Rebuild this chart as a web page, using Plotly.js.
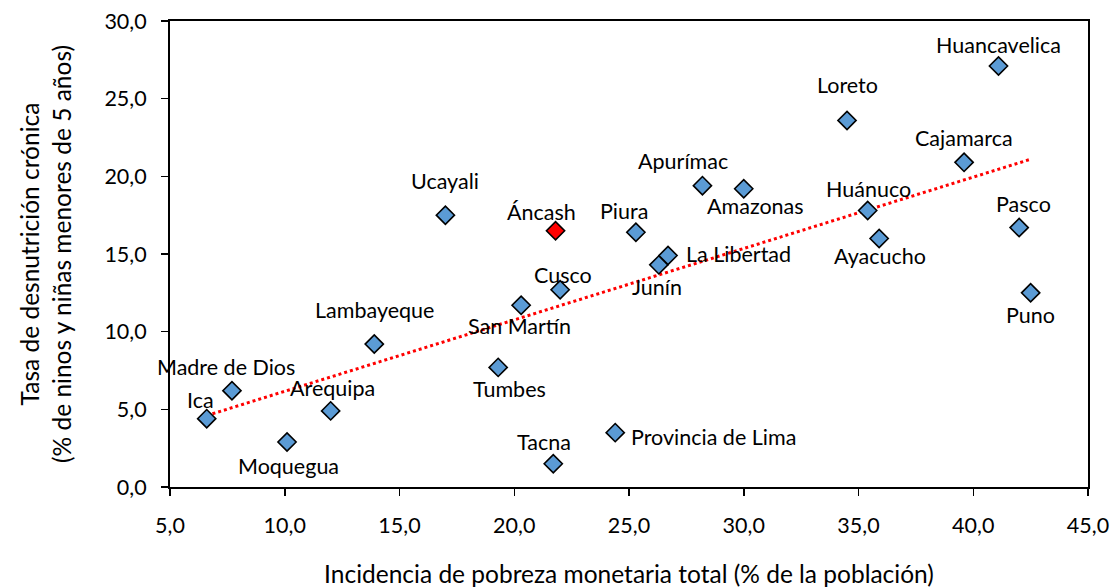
<!DOCTYPE html>
<html><head><meta charset="utf-8">
<script src="https://cdn.plot.ly/plotly-3.0.1.min.js"></script>
<style>body{margin:0;background:#fff}#c{width:1112px;height:588px}</style>
</head><body><div id="c"></div>
<script>
const regiones = ["Ica","Madre de Dios","Moquegua","Arequipa","Lambayeque","Ucayali","Tumbes","San Martín","Tacna","Áncash","Cusco","Provincia de Lima","Piura","Junín","La Libertad","Apurímac","Amazonas","Loreto","Huánuco","Ayacucho","Cajamarca","Huancavelica","Pasco","Puno"];
const pobreza = [6.6,7.7,10.1,12.0,13.9,17.0,19.3,20.3,21.7,21.8,22.0,24.4,25.3,26.3,26.7,28.2,30.0,34.5,35.4,35.9,39.6,41.1,42.0,42.5];
const desnutricion = [4.4,6.2,2.9,4.9,9.2,17.5,7.7,11.7,1.5,16.5,12.7,3.5,16.4,14.3,14.9,19.4,19.2,23.6,17.8,16.0,20.9,27.1,16.7,12.5];
const tendenciaX = [6.6,42.5];
const tendenciaY = [4.6,21.1];
const destacado = "Áncash";

// label offsets in pixels [dx, dy] (positive dy = up)
const offsets = {
 "Ica":[-6,19],"Madre de Dios":[-6,24],"Moquegua":[1,-24],"Arequipa":[2,23],"Lambayeque":[0,34],
 "Ucayali":[0,34],"Tumbes":[11,-22],"San Martín":[-2,-21],"Tacna":[-9,22],"Áncash":[-14,19],
 "Cusco":[3,15],"Provincia de Lima":[98,-4],"Piura":[-12,21],"Junín":[-2,-22],"La Libertad":[70,2],
 "Apurímac":[-19,25],"Amazonas":[12,-17],"Loreto":[0,35],"Huánuco":[1,22],"Ayacucho":[1,-18],
 "Cajamarca":[0,24],"Huancavelica":[0,21],"Pasco":[4,24],"Puno":[0,-22]
};

const colors = regiones.map(r => r===destacado ? "#FF0000" : "#5B9BD5");
const font = "Lato, 'Noto Sans', sans-serif";

const traces = [
 {x: tendenciaX, y: tendenciaY, mode:"lines", line:{color:"#FF0000", width:3, dash:"dot"}, hoverinfo:"skip"},
 {x: pobreza, y: desnutricion, mode:"markers", text: regiones,
  marker:{symbol:"diamond", size:14, color:colors, line:{color:"#000", width:1.6}}}
];

const annotations = regiones.map((r,i)=>({
 x: pobreza[i], y: desnutricion[i], text: r, showarrow:false,
 xshift: offsets[r][0], yshift: offsets[r][1],
 font:{family:font, size:21.5, color:"#000"}
}));

const layout = {
 width:1112, height:588, showlegend:false,
 margin:{l:170, r:24, t:21, b:101},
 paper_bgcolor:"#fff", plot_bgcolor:"#fff",
 separators:", ",
 font:{family:font, size:21.5, color:"#000"},
 xaxis:{range:[5,45], dtick:5, tick0:5, tickformat:".1f", showgrid:false, zeroline:false,
   showline:true, linecolor:"#000", linewidth:2, mirror:true, ticks:"outside", ticklen:7, tickwidth:1.5, tickcolor:"#000",
   ticklabelstandoff:11,
   tickfont:{family:font, size:21.5},
   title:{text:"Incidencia de pobreza monetaria total (% de la población)", font:{family:font, size:24.5}, standoff:30}},
 yaxis:{range:[0,30], dtick:5, tickformat:".1f", showgrid:false, zeroline:false,
   showline:true, linecolor:"#000", linewidth:2, mirror:true, ticks:"outside", ticklen:7, tickwidth:1.5, tickcolor:"#000",
   ticklabelstandoff:10,
   tickfont:{family:font, size:21.5},
   title:{text:"Tasa de desnutrición crónica<br>(% de ninos y niñas menores de 5 años)", font:{family:font, size:24.5}, standoff:26}},
 annotations: annotations
};
Plotly.newPlot("c", traces, layout, {staticPlot:true});
</script></body></html>
